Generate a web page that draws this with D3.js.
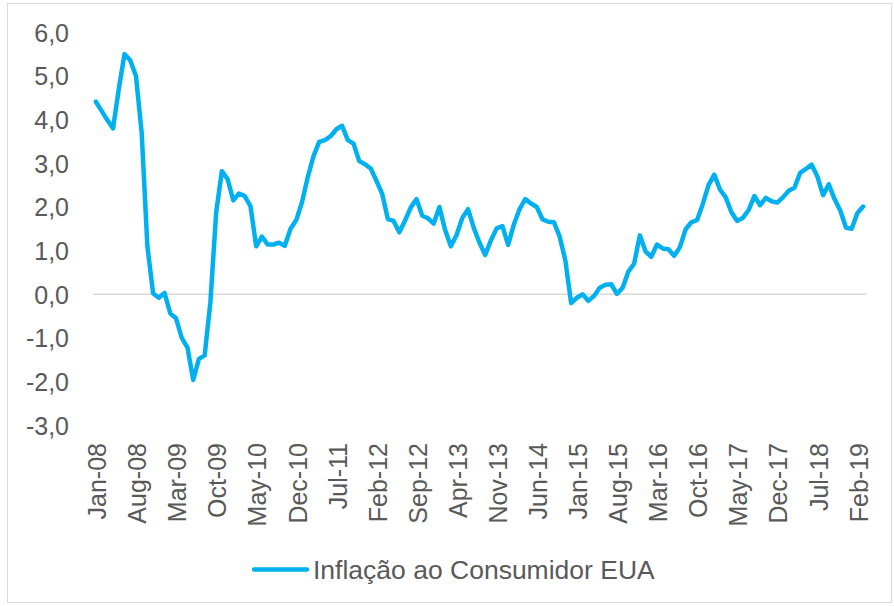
<!DOCTYPE html>
<html>
<head>
<meta charset="utf-8">
<script src="https://cdn.jsdelivr.net/npm/d3@7"></script>
<style>
  html, body { margin: 0; padding: 0; background: #fff; }
  svg { display: block; }
  text { font-family: "Liberation Sans", Arial, sans-serif; fill: #595959; }
</style>
</head>
<body>
<svg id="chart" width="894" height="606"></svg>
<script>
// ---- Data ----
const monthNames = ["Jan","Feb","Mar","Apr","May","Jun","Jul","Aug","Sep","Oct","Nov","Dec"];
const years = ["08","09","10","11","12","13","14","15","16","17","18","19"];
const seriesName = "Inflação ao Consumidor EUA";

const values = [
  4.41, 4.20, 3.99, 3.80, 4.70, 5.50, 5.36, 5.00, 3.70, 1.10, 0.02, -0.08,
  0.03, -0.44, -0.55, -1.00, -1.22, -1.96, -1.48, -1.40, -0.18, 1.86, 2.82, 2.64,
  2.15, 2.31, 2.25, 2.02, 1.10, 1.32, 1.14, 1.14, 1.18, 1.11, 1.50, 1.70,
  2.11, 2.68, 3.16, 3.49, 3.53, 3.62, 3.78, 3.86, 3.53, 3.45, 3.05, 2.98,
  2.88, 2.60, 2.30, 1.72, 1.68, 1.42, 1.69, 1.99, 2.18, 1.80, 1.74, 1.62,
  2.00, 1.47, 1.10, 1.36, 1.75, 1.95, 1.52, 1.18, 0.90, 1.24, 1.51, 1.56,
  1.13, 1.60, 1.95, 2.18, 2.08, 2.00, 1.72, 1.66, 1.65, 1.32, 0.77, -0.20,
  -0.08, 0.00, -0.15, -0.04, 0.15, 0.22, 0.23, 0.01, 0.15, 0.52, 0.70, 1.35,
  0.98, 0.86, 1.14, 1.05, 1.03, 0.88, 1.08, 1.49, 1.65, 1.70, 2.07, 2.50,
  2.74, 2.40, 2.22, 1.88, 1.68, 1.75, 1.93, 2.25, 2.04, 2.21, 2.13, 2.10,
  2.22, 2.37, 2.44, 2.78, 2.87, 2.97, 2.70, 2.27, 2.52, 2.18, 1.92, 1.53,
  1.50, 1.86, 2.01
];

// categories Jan-08 ... one per value
const categories = [];
years.forEach(y => monthNames.forEach(m => categories.push(m + "-" + y)));
categories.length = values.length;

const xTickLabels = ["Jan-08","Aug-08","Mar-09","Oct-09","May-10","Dec-10","Jul-11","Feb-12",
  "Sep-12","Apr-13","Nov-13","Jun-14","Jan-15","Aug-15","Mar-16","Oct-16","May-17","Dec-17",
  "Jul-18","Feb-19"];
const yTicks = [6, 5, 4, 3, 2, 1, 0, -1, -2, -3];

// ---- Drawing ----
const svg = d3.select("#chart");
const color = "#00B0F0";

svg.append("rect")
  .attr("x", 7.5).attr("y", 3.5).attr("width", 884).attr("height", 599)
  .attr("fill", "#fff").attr("stroke", "#d9d9d9").attr("stroke-width", 1);

const x = d3.scalePoint().domain(categories).range([93, 866]).padding(0.5);
const y = d3.scaleLinear().domain([-3, 6]).range([425.3, 32.3]);

const fmt = v => d3.format(".1f")(v).replace(".", ",").replace("−", "-");

// y axis labels
const yAxis = d3.axisLeft(y).tickValues(yTicks).tickFormat(fmt).tickSize(0).tickPadding(0);
const gy = svg.append("g").attr("transform", "translate(69,0)").call(yAxis);
gy.select(".domain").remove();
gy.selectAll("text")
  .style("font-family", '"Liberation Sans", Arial, sans-serif')
  .style("font-size", "25px").attr("fill", "#595959").attr("dy", "0.35em");

// zero line (category axis)
svg.append("line")
  .attr("x1", 93).attr("x2", 866)
  .attr("y1", y(0)).attr("y2", y(0))
  .attr("stroke", "#d9d9d9").attr("stroke-width", 1.5);

// x axis labels
const xAxis = d3.axisBottom(x).tickValues(xTickLabels).tickSize(0).tickPadding(0);
const gx = svg.append("g").attr("transform", "translate(0,443)").call(xAxis);
gx.select(".domain").remove();
gx.selectAll("text")
  .style("font-family", '"Liberation Sans", Arial, sans-serif')
  .style("font-size", "25px").attr("fill", "#595959")
  .attr("text-anchor", "end")
  .attr("y", 0).attr("dy", "0.35em")
  .attr("transform", "translate(1,0) rotate(-90)");

// series line
const line = d3.line()
  .x((d, i) => x(categories[i]))
  .y(d => y(d));
svg.append("path")
  .datum(values)
  .attr("d", line)
  .attr("fill", "none")
  .attr("stroke", color)
  .attr("stroke-width", 4.5)
  .attr("stroke-linejoin", "round")
  .attr("stroke-linecap", "round");

// legend
const lg = svg.append("g");
lg.append("line")
  .attr("x1", 254).attr("x2", 307).attr("y1", 569.5).attr("y2", 569.5)
  .attr("stroke", color).attr("stroke-width", 4.5).attr("stroke-linecap", "round");
lg.append("text")
  .attr("x", 313).attr("y", 569.5).attr("dy", "0.35em")
  .style("font-size", "26.5px")
  .text(seriesName);
</script>
</body>
</html>
